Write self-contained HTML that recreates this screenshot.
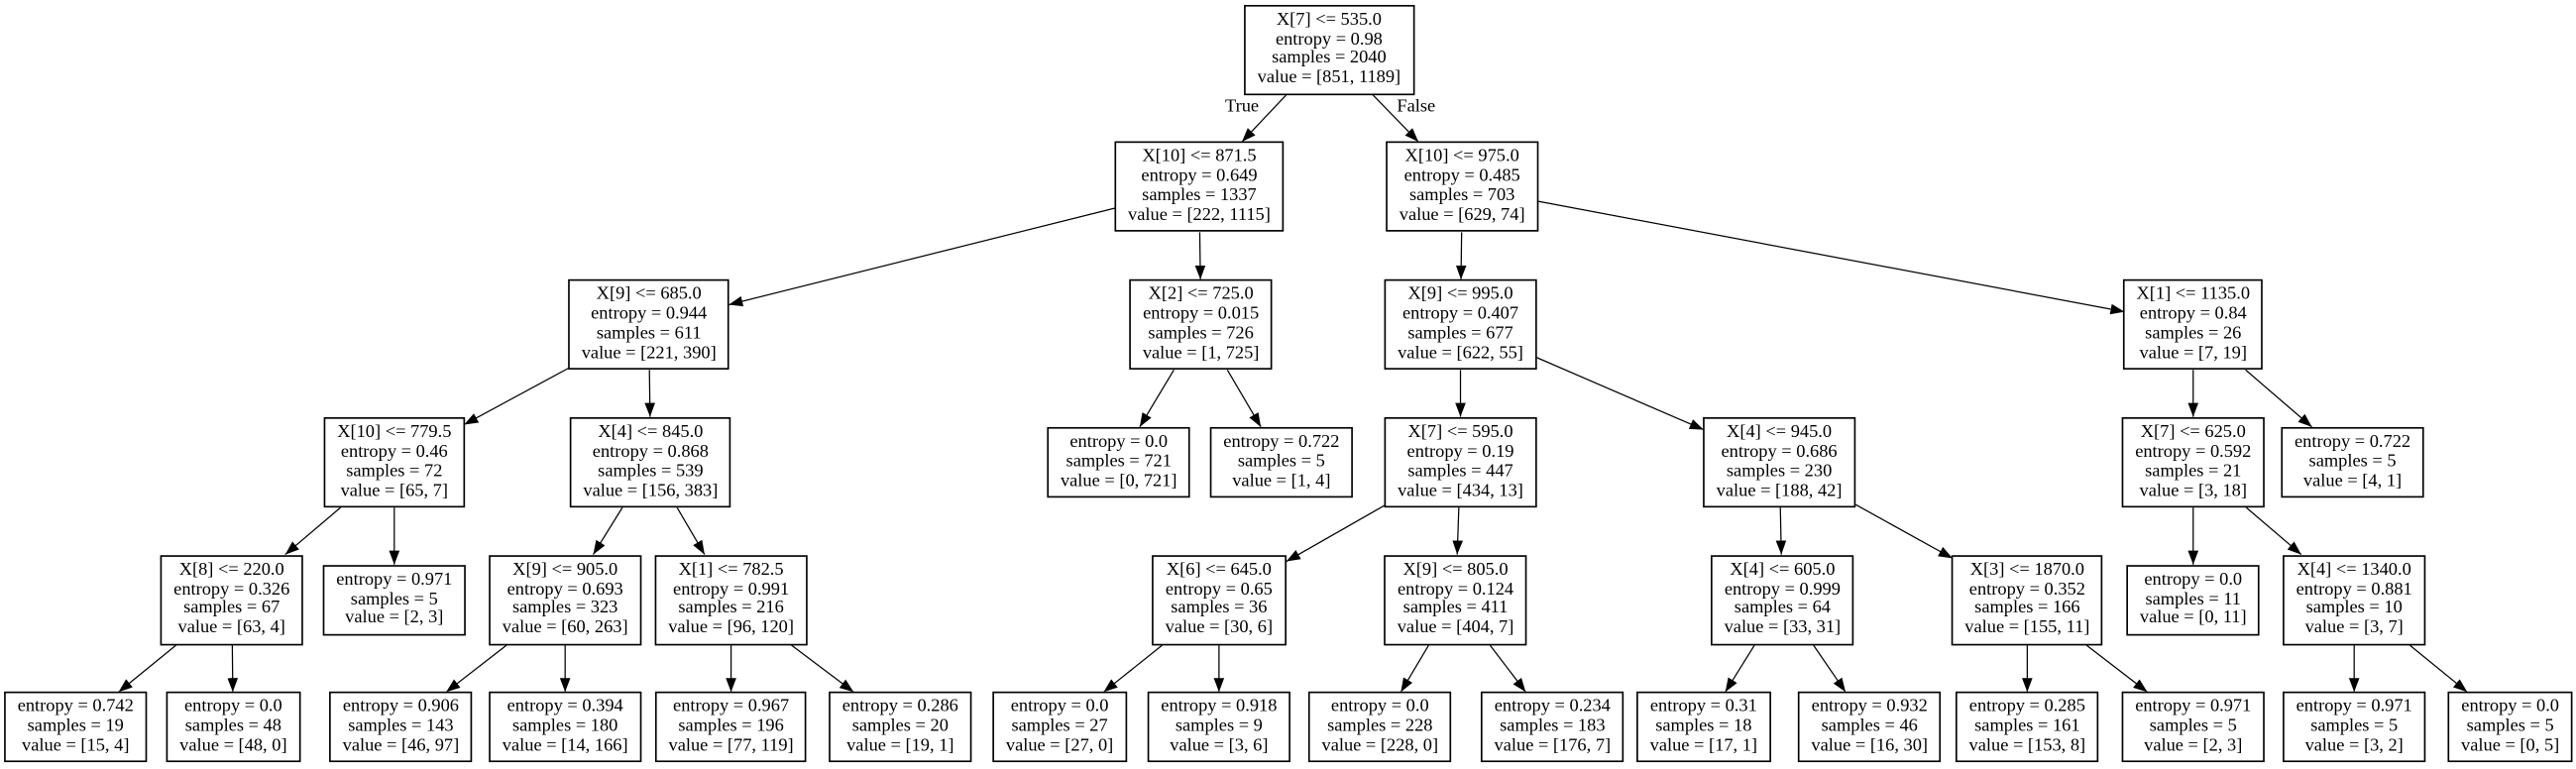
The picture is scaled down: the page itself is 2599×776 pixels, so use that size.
<!DOCTYPE html>
<html><head><meta charset="utf-8"><style>
html,body{margin:0;padding:0;background:#fff;overflow:hidden;}
#w{position:absolute;left:0;top:0;width:1568px;height:467.6px;transform:scale(1.6575);transform-origin:0 0;}
svg{position:absolute;left:0;top:0;}
.n{position:absolute;transform:translateX(-50%);box-sizing:border-box;height:55.1px;border:0.8px solid #000;background:#fff;padding:3px 7.2px 0 7.2px;white-space:nowrap;text-align:center;font-family:"Liberation Serif","Times New Roman",serif;font-size:11.1px;line-height:11.9px;color:#000;}
.l{height:42.8px;padding-top:2.9px;}
.t{position:absolute;font-family:"Liberation Serif","Times New Roman",serif;font-size:11.1px;transform:translateX(-50%);white-space:nowrap;}
</style></head><body>
<div id="w">
<svg width="1568" height="468" viewBox="0 0 1568 468" xmlns="http://www.w3.org/2000/svg">
<defs><marker id="a" markerUnits="userSpaceOnUse" markerWidth="9" markerHeight="7" refX="8.5" refY="3.2" orient="auto"><polygon points="0,0 8.5,3.2 0,6.4" fill="#000"/></marker></defs>
<g stroke="#000" stroke-width="0.75" marker-end="url(#a)">
<line x1="783" y1="57.7" x2="756" y2="86.3"/>
<line x1="835.6" y1="57.7" x2="863.4" y2="86.3"/>
<line x1="679" y1="126.6" x2="443.6" y2="185.5"/>
<line x1="730.3" y1="141.4" x2="730.7" y2="170.1"/>
<line x1="889.7" y1="141.4" x2="889.3" y2="170.1"/>
<line x1="935.5" y1="122.4" x2="1293.2" y2="189.8"/>
<line x1="346.5" y1="223.9" x2="282.5" y2="258.5"/>
<line x1="395.3" y1="225.2" x2="395.7" y2="253.8"/>
<line x1="714.55" y1="225.2" x2="693.75" y2="259.95"/>
<line x1="747.1" y1="225.2" x2="767.5" y2="259.95"/>
<line x1="889" y1="225.2" x2="889" y2="253.8"/>
<line x1="935" y1="217.5" x2="1037" y2="261.6"/>
<line x1="1335" y1="225.2" x2="1335" y2="253.8"/>
<line x1="1366.9" y1="225.2" x2="1407.3" y2="259.95"/>
<line x1="207.4" y1="308.9" x2="173.6" y2="337.6"/>
<line x1="240" y1="308.9" x2="240" y2="343.75"/>
<line x1="378.9" y1="308.9" x2="361.1" y2="337.6"/>
<line x1="412.1" y1="308.9" x2="428.9" y2="337.6"/>
<line x1="843" y1="307.6" x2="783" y2="341.8"/>
<line x1="888" y1="308.9" x2="887" y2="337.6"/>
<line x1="1083.7" y1="308.9" x2="1084.3" y2="337.6"/>
<line x1="1129" y1="306.9" x2="1188.5" y2="339.9"/>
<line x1="1335" y1="308.9" x2="1335" y2="343.75"/>
<line x1="1367.2" y1="308.9" x2="1400.8" y2="337.6"/>
<line x1="107.3" y1="392.7" x2="72.2" y2="421.3"/>
<line x1="141.4" y1="392.7" x2="141.7" y2="421.3"/>
<line x1="308.5" y1="392.7" x2="271.6" y2="421.3"/>
<line x1="344" y1="392.7" x2="344" y2="421.3"/>
<line x1="445" y1="392.7" x2="445" y2="421.3"/>
<line x1="481.6" y1="392.7" x2="519.6" y2="421.3"/>
<line x1="707.6" y1="392.7" x2="671.8" y2="421.3"/>
<line x1="742" y1="392.7" x2="742" y2="421.3"/>
<line x1="869.7" y1="392.7" x2="852.7" y2="421.3"/>
<line x1="906.9" y1="392.7" x2="928.7" y2="421.3"/>
<line x1="1068" y1="392.7" x2="1050.2" y2="421.3"/>
<line x1="1103.8" y1="392.7" x2="1123.4" y2="421.3"/>
<line x1="1234" y1="392.7" x2="1234" y2="421.3"/>
<line x1="1269.9" y1="392.7" x2="1307.1" y2="421.3"/>
<line x1="1433" y1="392.7" x2="1433" y2="421.3"/>
<line x1="1466.7" y1="392.7" x2="1501.8" y2="421.3"/>
</g>
</svg>
<div class="t" style="left:756px;top:59px">True</div>
<div class="t" style="left:862px;top:59px">False</div>

<div class="n" style="left:809px;top:2.6px">X[7] &lt;= 535.0<br>entropy = 0.98<br>samples = 2040<br>value = [851, 1189]</div>

<div class="n" style="left:730px;top:86.3px">X[10] &lt;= 871.5<br>entropy = 0.649<br>samples = 1337<br>value = [222, 1115]</div>
<div class="n" style="left:890px;top:86.3px">X[10] &lt;= 975.0<br>entropy = 0.485<br>samples = 703<br>value = [629, 74]</div>

<div class="n" style="left:395px;top:170.1px">X[9] &lt;= 685.0<br>entropy = 0.944<br>samples = 611<br>value = [221, 390]</div>
<div class="n" style="left:731px;top:170.1px">X[2] &lt;= 725.0<br>entropy = 0.015<br>samples = 726<br>value = [1, 725]</div>
<div class="n" style="left:889px;top:170.1px">X[9] &lt;= 995.0<br>entropy = 0.407<br>samples = 677<br>value = [622, 55]</div>
<div class="n" style="left:1335px;top:170.1px">X[1] &lt;= 1135.0<br>entropy = 0.84<br>samples = 26<br>value = [7, 19]</div>

<div class="n" style="left:240px;top:253.8px">X[10] &lt;= 779.5<br>entropy = 0.46<br>samples = 72<br>value = [65, 7]</div>
<div class="n" style="left:396px;top:253.8px">X[4] &lt;= 845.0<br>entropy = 0.868<br>samples = 539<br>value = [156, 383]</div>
<div class="n l" style="left:681px;top:259.95px">entropy = 0.0<br>samples = 721<br>value = [0, 721]</div>
<div class="n l" style="left:780px;top:259.95px">entropy = 0.722<br>samples = 5<br>value = [1, 4]</div>
<div class="n" style="left:889px;top:253.8px">X[7] &lt;= 595.0<br>entropy = 0.19<br>samples = 447<br>value = [434, 13]</div>
<div class="n" style="left:1083px;top:253.8px">X[4] &lt;= 945.0<br>entropy = 0.686<br>samples = 230<br>value = [188, 42]</div>
<div class="n" style="left:1335px;top:253.8px">X[7] &lt;= 625.0<br>entropy = 0.592<br>samples = 21<br>value = [3, 18]</div>
<div class="n l" style="left:1432px;top:259.95px">entropy = 0.722<br>samples = 5<br>value = [4, 1]</div>

<div class="n" style="left:141px;top:337.6px">X[8] &lt;= 220.0<br>entropy = 0.326<br>samples = 67<br>value = [63, 4]</div>
<div class="n l" style="left:240px;top:343.75px">entropy = 0.971<br>samples = 5<br>value = [2, 3]</div>
<div class="n" style="left:344px;top:337.6px">X[9] &lt;= 905.0<br>entropy = 0.693<br>samples = 323<br>value = [60, 263]</div>
<div class="n" style="left:445px;top:337.6px">X[1] &lt;= 782.5<br>entropy = 0.991<br>samples = 216<br>value = [96, 120]</div>
<div class="n" style="left:742px;top:337.6px">X[6] &lt;= 645.0<br>entropy = 0.65<br>samples = 36<br>value = [30, 6]</div>
<div class="n" style="left:886px;top:337.6px">X[9] &lt;= 805.0<br>entropy = 0.124<br>samples = 411<br>value = [404, 7]</div>
<div class="n" style="left:1085px;top:337.6px">X[4] &lt;= 605.0<br>entropy = 0.999<br>samples = 64<br>value = [33, 31]</div>
<div class="n" style="left:1234px;top:337.6px">X[3] &lt;= 1870.0<br>entropy = 0.352<br>samples = 166<br>value = [155, 11]</div>
<div class="n l" style="left:1335px;top:343.75px">entropy = 0.0<br>samples = 11<br>value = [0, 11]</div>
<div class="n" style="left:1433px;top:337.6px">X[4] &lt;= 1340.0<br>entropy = 0.881<br>samples = 10<br>value = [3, 7]</div>

<div class="n l" style="left:46px;top:421.3px">entropy = 0.742<br>samples = 19<br>value = [15, 4]</div>
<div class="n l" style="left:142px;top:421.3px">entropy = 0.0<br>samples = 48<br>value = [48, 0]</div>
<div class="n l" style="left:244px;top:421.3px">entropy = 0.906<br>samples = 143<br>value = [46, 97]</div>
<div class="n l" style="left:344px;top:421.3px">entropy = 0.394<br>samples = 180<br>value = [14, 166]</div>
<div class="n l" style="left:445px;top:421.3px">entropy = 0.967<br>samples = 196<br>value = [77, 119]</div>
<div class="n l" style="left:548px;top:421.3px">entropy = 0.286<br>samples = 20<br>value = [19, 1]</div>
<div class="n l" style="left:645px;top:421.3px">entropy = 0.0<br>samples = 27<br>value = [27, 0]</div>
<div class="n l" style="left:742px;top:421.3px">entropy = 0.918<br>samples = 9<br>value = [3, 6]</div>
<div class="n l" style="left:840px;top:421.3px">entropy = 0.0<br>samples = 228<br>value = [228, 0]</div>
<div class="n l" style="left:945px;top:421.3px">entropy = 0.234<br>samples = 183<br>value = [176, 7]</div>
<div class="n l" style="left:1037px;top:421.3px">entropy = 0.31<br>samples = 18<br>value = [17, 1]</div>
<div class="n l" style="left:1138px;top:421.3px">entropy = 0.932<br>samples = 46<br>value = [16, 30]</div>
<div class="n l" style="left:1234px;top:421.3px">entropy = 0.285<br>samples = 161<br>value = [153, 8]</div>
<div class="n l" style="left:1335px;top:421.3px">entropy = 0.971<br>samples = 5<br>value = [2, 3]</div>
<div class="n l" style="left:1433px;top:421.3px">entropy = 0.971<br>samples = 5<br>value = [3, 2]</div>
<div class="n l" style="left:1528px;top:421.3px">entropy = 0.0<br>samples = 5<br>value = [0, 5]</div>
</div>
</body></html>
